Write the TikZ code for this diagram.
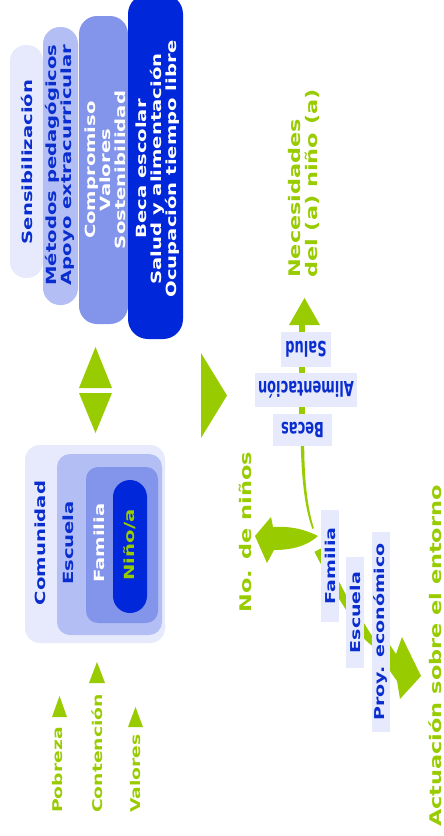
\documentclass[tikz,border=0pt]{standalone}
\usepackage{fontspec}
\newfontfamily\vfont{DejaVu Sans Bold}[FakeStretch=1.4]
\newfontfamily\hfont{DejaVu Sans Bold}
\definecolor{grn}{HTML}{99CC00}
\definecolor{dblue}{HTML}{0027D9}
\definecolor{tblue}{HTML}{0A2DD0}
\definecolor{lt}{HTML}{E6EAFC}
\definecolor{md}{HTML}{B2BEF4}
\definecolor{mb}{HTML}{8395EB}
\tikzset{
  vt/.style={rotate=90, inner sep=0pt, align=center, font=\vfont\fontsize{14}{15}\selectfont},
  vs/.style={rotate=90, inner sep=0pt, align=left, font=\vfont\fontsize{13.4}{15}\selectfont, text=grn},
  vg/.style={rotate=90, inner sep=0pt, align=left, font=\vfont\fontsize{16}{17}\selectfont, text=grn},
  lbl/.style={rotate=180, inner sep=0pt, fill=lt, text=tblue, font=\hfont\fontsize{13}{15}\selectfont},
  vlbl/.style={rotate=90, inner sep=0pt, fill=lt, text=tblue, font=\vfont\fontsize{13.6}{15}\selectfont},
}
\begin{document}
\begin{tikzpicture}[x=1pt,y=-1pt]
\useasboundingbox (0,0) rectangle (444,836);
\fill[white] (0,0) rectangle (444,836);
% top pills
\fill[lt, rounded corners=16] (10,45) rectangle (43,278);
\fill[md, rounded corners=17] (43,27) rectangle (78,305);
\fill[mb, rounded corners=18] (79,16) rectangle (128,324);
\fill[dblue, rounded corners=20] (128,-6) rectangle (183,339);
\node[vt, text=tblue] (sens) at (27,162) {Sensibilización};
\node[vt, text=tblue] (met) at (60,165) {Métodos pedagógicos\\Apoyo extracurricular};
\node[vt, text=white] (comp) at (105,170) {Compromiso\\Valores\\Sostenibilidad};
\node[vt, text=white] (beca) at (158,169) {Beca escolar\\Salud y alimentación\\Ocupación tiempo libre};
% nested boxes
\fill[lt, rounded corners=15] (25,445) rectangle (165,643);
\fill[md, rounded corners=13] (57,454) rectangle (162,635);
\fill[mb, rounded corners=12] (86,467) rectangle (158,623);
\fill[dblue, rounded corners=17] (113,480) rectangle (147,613);
\node[vt, text=tblue] (comu) at (40,543) {Comunidad};
\node[vt, text=tblue] (escu) at (68,543) {Escuela};
\node[vt, text=white] (fami) at (99,543) {Familia};
\node[vt, text=grn] (nino) at (130,545) {Niño/a};
% triangles
\fill[grn] (79,388) -- (112,388) -- (95.5,347) -- cycle;
\fill[grn] (79,393) -- (112,393) -- (95.5,433) -- cycle;
\fill[grn] (201,353) -- (201,438) -- (227,395.5) -- cycle;
% bottom-left
\fill[grn] (52,717) -- (67,717) -- (59.5,696) -- cycle;
\fill[grn] (89,683) -- (105,683) -- (97,662) -- cycle;
\fill[grn] (128,727) -- (143,727) -- (135.5,707) -- cycle;
\node[vs, anchor=west] (pob) at (58,813) {Pobreza};
\node[vs, anchor=west] (cont) at (97,813) {Contención};
\node[vs, anchor=west] (val) at (135.5,813) {Valores};
% right: needs arrow
\fill[grn] (299,320) rectangle (305,446);
\fill[grn] (289,325) -- (320,325) -- (304.5,298) -- cycle;
\node[lbl, minimum width=50pt, minimum height=35pt] (salud) at (306,349.5) {\scalebox{1}[1.6]{Salud}};
\node[lbl, minimum width=102pt, minimum height=34pt] (alim) at (306,390) {\scalebox{1}[1.6]{Alimentación}};
\node[lbl, minimum width=59pt, minimum height=32pt] (becas) at (302.5,430) {\scalebox{1}[1.6]{Becas}};
\fill[grn] (300.8,446) .. controls (302,490) and (307,515) .. (312.5,529) -- (313.8,528) .. controls (309,512) and (304.5,490) .. (304.2,446) -- cycle;
\node[vg, anchor=west] (nec) at (303.5,278) {Necesidades\\del (a) niño (a)};
% no. de ninos arrow
\fill[grn] (318,536) .. controls (302,528) and (287,526) .. (273,527) -- (271,517) -- (255,536) -- (267,563) -- (274,550) .. controls (292,550) and (307,546) .. (318,536) -- cycle;
\node[vg] (nn) at (245,532) {No. de niños};
% zigzag arrow
\draw[grn, line width=8pt] (318,550) -- (342,596) -- (368,637) -- (392,658);
\fill[grn] (390,645) -- (396,654) -- (402,637) -- (421,676) -- (400,699) -- (397,681) -- (390,671) -- cycle;
\node[vlbl, minimum width=112pt, minimum height=18pt] (lfam) at (330,566) {Familia};
\node[vlbl, minimum width=111pt, minimum height=18pt] (lesc) at (355,612.5) {Escuela};
\node[vlbl, minimum width=200pt, minimum height=18pt] (lproy) at (381,632) {Proy. económico};
\node[vg, anchor=west] (act) at (435,827) {Actuación sobre el entorno};
\end{tikzpicture}
\end{document}
